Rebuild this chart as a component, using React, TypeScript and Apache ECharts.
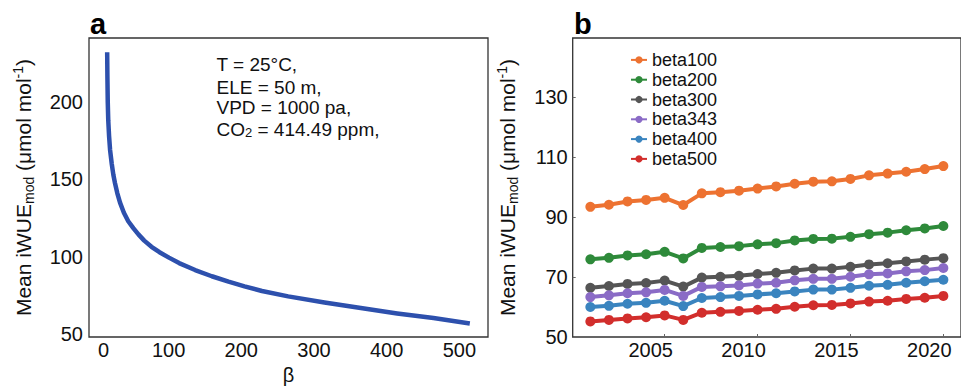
import React, { useEffect, useRef } from "react";
import * as echarts from "echarts";

// Panel a: modelled mean iWUE against beta
const betaValues = [1, 1.3, 1.8, 2.5, 3.6, 5, 7.3, 9.5, 11.8, 15, 18.7, 24, 30, 37, 44, 52, 62, 73, 86, 100, 122, 145, 168, 190, 214, 250, 300, 350, 400, 450, 500];
const iwueValues = [232, 217, 200, 188, 178, 169, 160, 153, 147.5, 141, 135, 128.5, 123, 118.5, 114.5, 110.5, 106.5, 103, 99.5, 96, 91.5, 87.5, 84, 81, 78, 74.5, 70.5, 67, 63.5, 60.5, 57];
const betaTicks = [0, 100, 200, 300, 400, 500];
const iwueTicksA = [50, 100, 150, 200];
const annotationLines = ["T = 25°C,", "ELE = 50 m,", "VPD = 1000 pa,", "CO{sub|2} = 414.49 ppm,"];

// Panel b: yearly mean iWUE for several beta values
const years = [2001, 2002, 2003, 2004, 2005, 2006, 2007, 2008, 2009, 2010, 2011, 2012, 2013, 2014, 2015, 2016, 2017, 2018, 2019, 2020];
const beta100 = [93.4, 94.1, 95.2, 95.7, 96.4, 94.0, 97.9, 98.3, 98.8, 99.5, 100.2, 101.1, 101.8, 101.9, 102.7, 103.9, 104.5, 105.1, 106.0, 107.0];
const beta200 = [75.9, 76.4, 77.2, 77.6, 78.4, 76.2, 79.7, 80.0, 80.3, 80.9, 81.3, 82.2, 82.7, 82.8, 83.4, 84.3, 84.8, 85.6, 86.2, 87.0];
const beta300 = [66.4, 67.0, 67.7, 68.0, 68.8, 66.8, 69.8, 70.1, 70.4, 71.0, 71.4, 72.2, 72.8, 72.8, 73.4, 74.2, 74.6, 75.2, 75.8, 76.3];
const beta343 = [63.3, 63.9, 64.6, 64.9, 65.7, 63.7, 66.7, 66.9, 67.2, 67.8, 68.1, 68.9, 69.4, 69.4, 70.1, 70.9, 71.2, 71.9, 72.3, 73.0];
const beta400 = [60.0, 60.4, 61.1, 61.4, 62.1, 60.3, 63.0, 63.3, 63.7, 64.2, 64.6, 65.2, 65.8, 65.8, 66.4, 67.1, 67.4, 68.1, 68.6, 69.1];
const beta500 = [55.2, 55.7, 56.2, 56.6, 57.2, 55.7, 58.1, 58.4, 58.7, 59.1, 59.4, 60.1, 60.6, 60.7, 61.2, 61.8, 62.1, 62.7, 63.1, 63.7];
const seriesNames = ["beta100", "beta200", "beta300", "beta343", "beta400", "beta500"];
const seriesValues = [beta100, beta200, beta300, beta343, beta400, beta500];
const seriesColors = ["#ed7231", "#2e8a3a", "#555555", "#8a6bc6", "#3a84bf", "#d22e2c"];
const yearTicks = [2005, 2010, 2015, 2020];
const iwueTicksB = [50, 70, 90, 110, 130];

const FONT = "'Liberation Sans', Arial, Helvetica, sans-serif";
const TEXT = "#111111";

const yName = "Mean iWUE{sub|mod} (μmol mol{sup|-1})";
const nameStyle = {
  fontSize: 21,
  color: TEXT,
  fontFamily: FONT,
  lineHeight: 25,
  rich: {
    sub: { fontSize: 14, lineHeight: 12, verticalAlign: "bottom", color: TEXT, fontFamily: FONT },
    sup: { fontSize: 14, lineHeight: 14, verticalAlign: "top", color: TEXT, fontFamily: FONT },
  },
};

export default function App() {
  const ref = useRef<HTMLDivElement>(null);

  useEffect(() => {
    if (!ref.current) return;
    const chart = echarts.init(ref.current, null, { renderer: "svg" });

    const gridBase = {
      show: true,
      borderColor: "#333333",
      borderWidth: 1.3,
      backgroundColor: "transparent",
      containLabel: false,
    };

    const option: any = {
      animation: false,
      backgroundColor: "#ffffff",
      textStyle: { fontFamily: FONT, color: TEXT },
      grid: [
        { ...gridBase, left: 89, top: 38, width: 399, height: 299 },
        { ...gridBase, left: 572.7, top: 38, width: 400.5, height: 299 },
      ],
      xAxis: [
        {
          type: "value",
          gridIndex: 0,
          min: -24,
          max: 525,
          axisLine: { show: false },
          axisTick: { show: false },
          splitLine: { show: false },
          axisLabel: {
            customValues: betaTicks,
            margin: 3,
            fontSize: 20,
            color: TEXT,
            formatter: (v: number) => (String(v).length === 1 ? `{s1|${v}}` : `{s3|${v}}`),
            rich: {
              s1: { fontSize: 20, color: TEXT, fontFamily: FONT, padding: [0, 6, 0, 0] },
              s3: { fontSize: 20, color: TEXT, fontFamily: FONT, padding: [0, 21, 0, 0] },
            },
          },
          name: "β",
          nameLocation: "middle",
          nameGap: 26,
          nameTextStyle: { fontSize: 20, color: TEXT, fontFamily: FONT },
        },
        {
          type: "value",
          gridIndex: 1,
          min: 2000.05,
          max: 2020.95,
          axisLine: { show: false },
          axisTick: {
            show: true,
            inside: true,
            length: 3,
            customValues: yearTicks,
            lineStyle: { color: "#666666", width: 1 },
          },
          splitLine: { show: false },
          axisLabel: {
            customValues: yearTicks,
            margin: 3,
            fontSize: 20,
            color: TEXT,
            formatter: (v: number) => `{s4|${v}}`,
            rich: {
              s4: { fontSize: 20, color: TEXT, fontFamily: FONT, padding: [0, 28, 0, 0] },
            },
          },
        },
      ],
      yAxis: [
        {
          type: "value",
          gridIndex: 0,
          min: 48.3,
          max: 241.2,
          axisLine: { show: false },
          axisTick: { show: false },
          splitLine: { show: false },
          axisLabel: { customValues: iwueTicksA, margin: 6, fontSize: 20, color: TEXT },
          name: yName,
          nameLocation: "middle",
          nameRotate: 90,
          nameGap: 53,
          nameTextStyle: nameStyle,
        },
        {
          type: "value",
          gridIndex: 1,
          min: 50,
          max: 149.7,
          axisLine: { show: false },
          axisTick: {
            show: true,
            inside: true,
            length: 3,
            customValues: iwueTicksB,
            lineStyle: { color: "#666666", width: 1 },
          },
          splitLine: { show: false },
          axisLabel: { customValues: iwueTicksB, margin: 5, fontSize: 20, color: TEXT },
          name: yName,
          nameLocation: "middle",
          nameRotate: 90,
          nameGap: 53,
          nameTextStyle: nameStyle,
        },
      ],
      legend: {
        data: seriesNames,
        orient: "vertical",
        left: 630,
        top: 50,
        padding: 0,
        itemGap: 0,
        itemWidth: 16,
        itemHeight: 9,
        textStyle: { fontSize: 18, lineHeight: 19.8, color: TEXT, fontFamily: FONT },
      },
      series: [
        {
          type: "line",
          xAxisIndex: 0,
          yAxisIndex: 0,
          data: betaValues.map((b, i) => [b, iwueValues[i]]),
          showSymbol: false,
          smooth: false,
          lineStyle: { color: "#2d50ad", width: 4.5, join: "round" },
          itemStyle: { color: "#2d50ad" },
          z: 3,
        },
        ...seriesNames.map((name, k) => ({
          type: "line",
          name,
          xAxisIndex: 1,
          yAxisIndex: 1,
          data: years.map((y, i) => [y, seriesValues[k][i]]),
          symbol: "circle",
          symbolSize: 10,
          lineStyle: { color: seriesColors[k], width: 4 },
          itemStyle: { color: seriesColors[k] },
          z: 3,
        })),
      ],
      graphic: [
        {
          type: "text",
          left: 90,
          top: 9,
          style: { text: "a", fontSize: 29, fontWeight: "bold", fill: "#000", fontFamily: FONT },
        },
        {
          type: "text",
          left: 574,
          top: 9,
          style: { text: "b", fontSize: 29, fontWeight: "bold", fill: "#000", fontFamily: FONT },
        },
        ...annotationLines.map((t, i) => ({
          type: "text",
          x: 216.5,
          y: [64.4, 87.2, 107.8, 129.6][i],
          style: {
            text: t,
            fontSize: 19,
            lineHeight: 18,
            fill: TEXT,
            fontFamily: FONT,
            verticalAlign: "middle",
            rich: {
              sub: { fontSize: 13, fill: TEXT, fontFamily: FONT, verticalAlign: "bottom", lineHeight: 8 },
            },
          },
        })),
      ],
    };

    chart.setOption(option);
    return () => chart.dispose();
  }, []);

  return (
    <div
      ref={ref}
      style={{ position: "absolute", left: 0, top: 0, width: 961, height: 390, background: "#fff" }}
    />
  );
}
